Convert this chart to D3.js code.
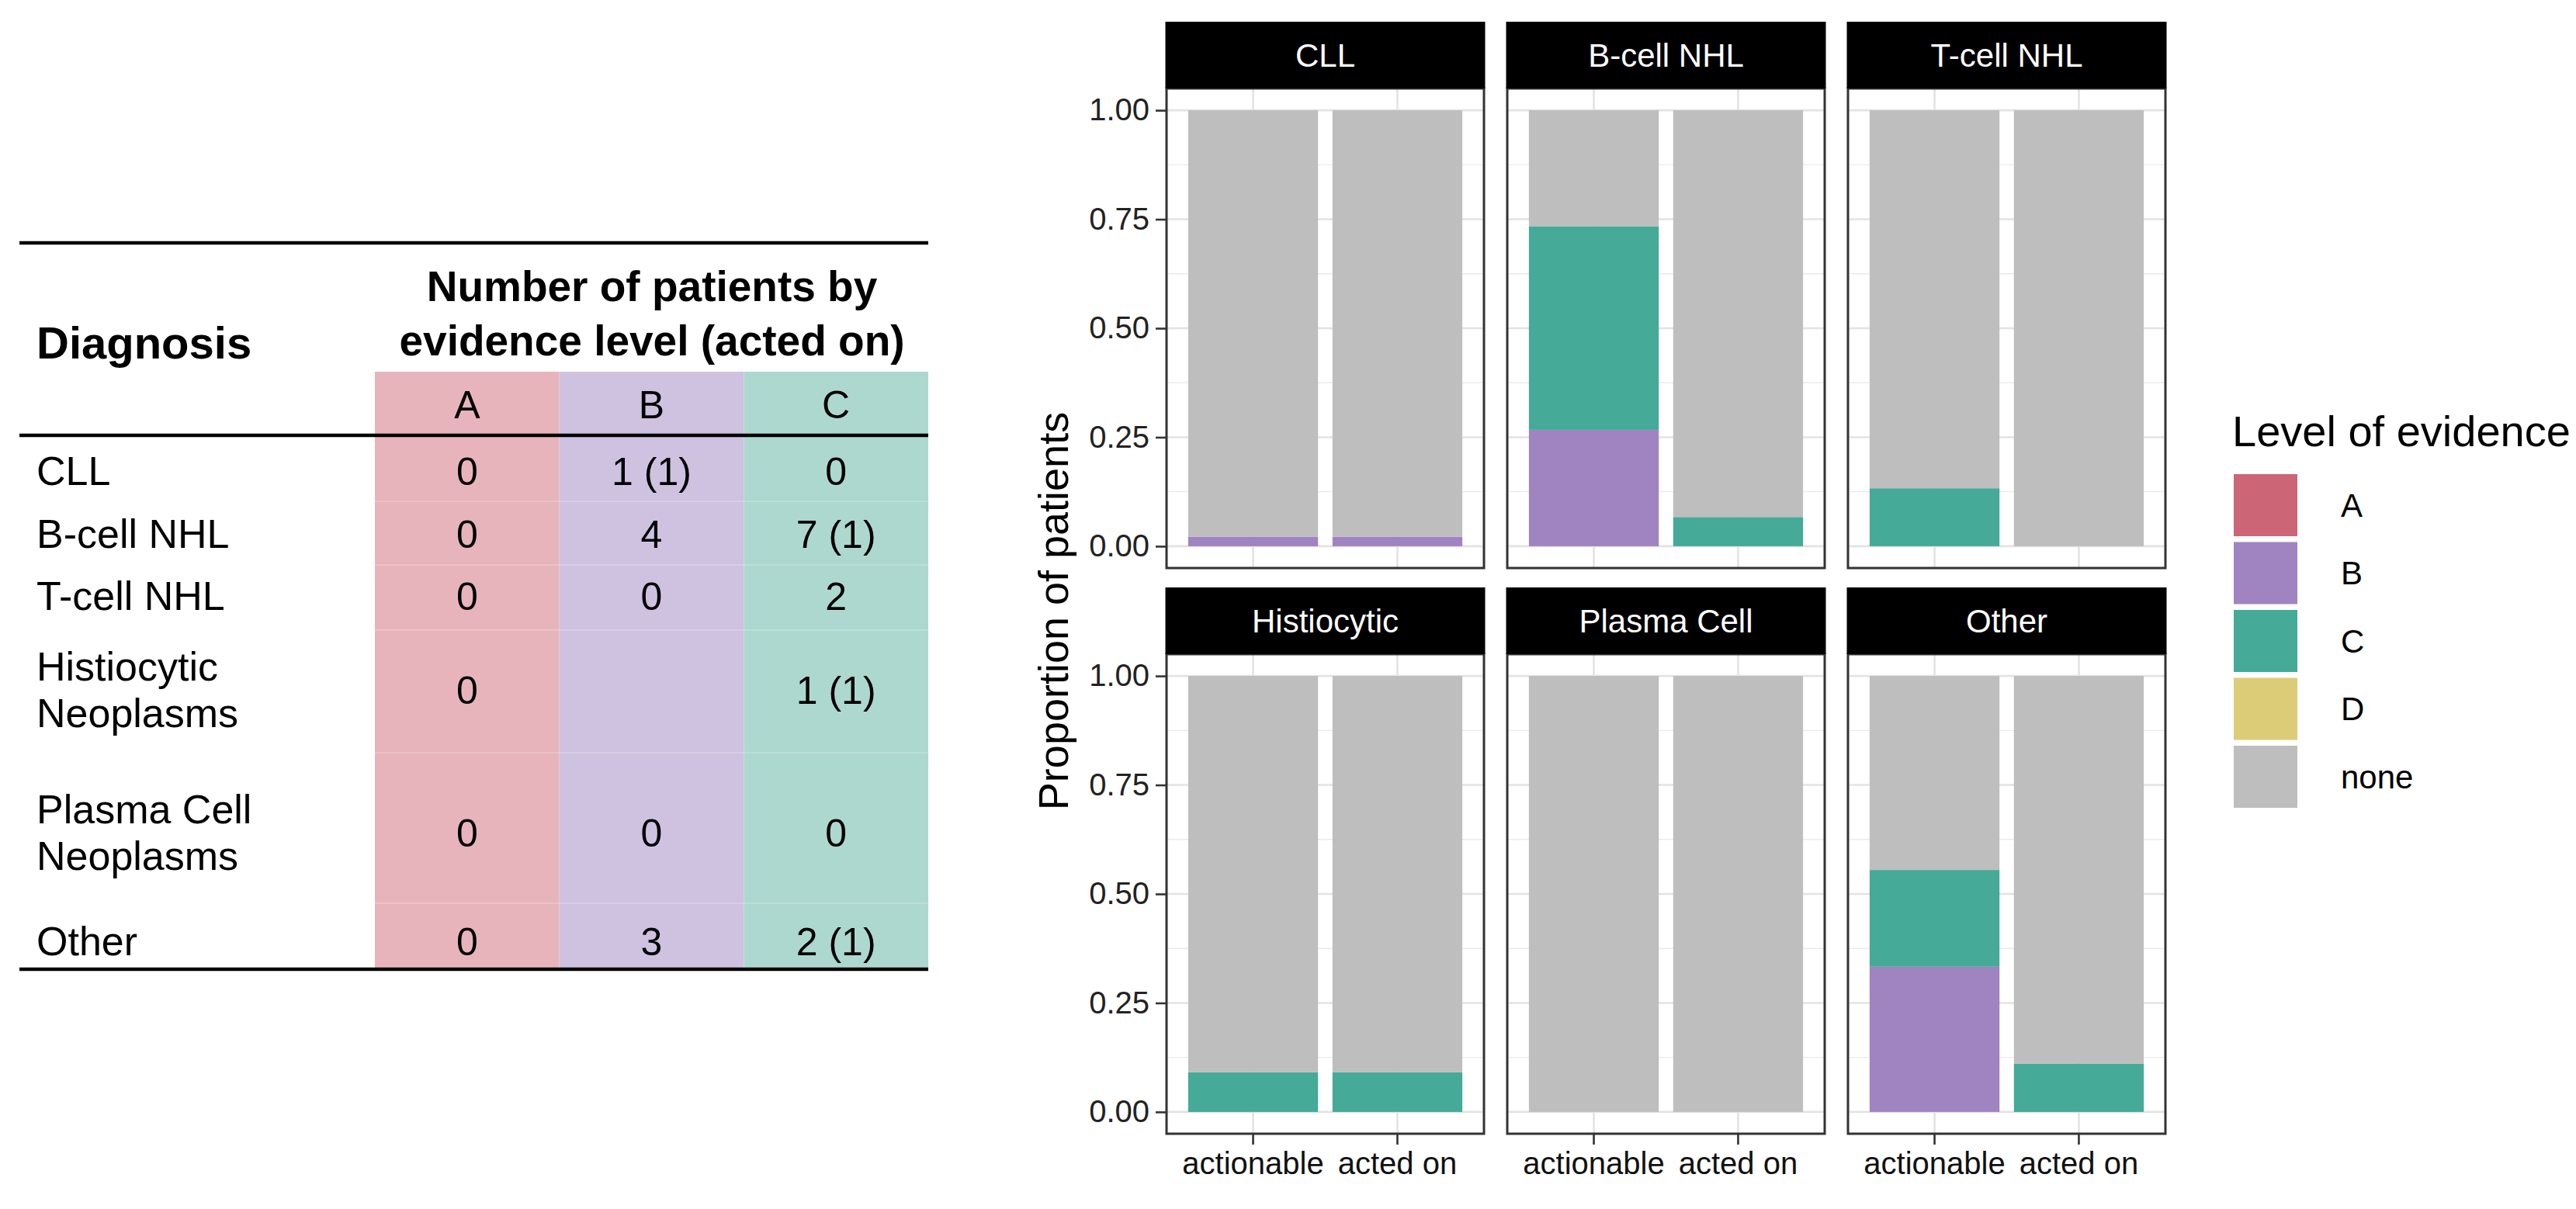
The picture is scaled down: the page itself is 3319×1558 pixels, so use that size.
<!DOCTYPE html>
<html>
<head>
<meta charset="utf-8">
<script src="https://cdn.jsdelivr.net/npm/d3@7"></script>
<style>
  body { margin: 0; background: #fff; }
  text { font-family: "Liberation Sans", Arial, sans-serif; }
</style>
</head>
<body>
<div id="chart"></div>
<script>
// ---- table data ----
const diagnoses = [["CLL"], ["B-cell NHL"], ["T-cell NHL"], ["Histiocytic", "Neoplasms"], ["Plasma Cell", "Neoplasms"], ["Other"]];
const tableLevels = ["A", "B", "C"];
const countsA = ["0", "0", "0", "0", "0", "0"];
const countsB = ["1 (1)", "4", "0", "", "0", "3"];
const countsC = ["0", "7 (1)", "2", "1 (1)", "0", "2 (1)"];

// ---- chart data: proportion of patients, [facet][actionable, acted on] ----
const facets = ["CLL", "B-cell NHL", "T-cell NHL", "Histiocytic", "Plasma Cell", "Other"];
const stages = ["actionable", "acted on"];
const levels = ["A", "B", "C", "D", "none"];
const propA = [[0, 0], [0, 0], [0, 0], [0, 0], [0, 0], [0, 0]];
const propB = [[0.022, 0.022], [0.267, 0], [0, 0], [0, 0], [0, 0], [0.333, 0]];
const propC = [[0, 0], [0.467, 0.067], [0.133, 0], [0.091, 0.091], [0, 0], [0.222, 0.111]];
const propD = [[0, 0], [0, 0], [0, 0], [0, 0], [0, 0], [0, 0]];
const propNone = [[0.978, 0.978], [0.266, 0.933], [0.867, 1], [0.909, 0.909], [1, 1], [0.445, 0.889]];
const yTicks = [0, 0.25, 0.5, 0.75, 1];

const width = 3319, height = 1558;
const svg = d3.select('#chart').append('svg')
  .attr('width', width).attr('height', height);
svg.append('rect').attr('width', width).attr('height', height).attr('fill', '#fff');

// ================= table =================
const tbl = svg.append('g');
const colFill = d3.scaleOrdinal().domain(tableLevels).range(['#E8B4BC', '#CFC2E0', '#ADD8CF']);
const colX = d3.scaleBand().domain(tableLevels).range([483, 1196]);
const rowCenters = [607, 688, 768, 889, 1073, 1213];
const rowLines = [646, 728, 812, 970, 1164];

tbl.selectAll('.colbg').data(tableLevels).enter().append('rect')
  .attr('x', d => colX(d)).attr('y', 479)
  .attr('width', colX.bandwidth()).attr('height', 1249 - 479)
  .attr('fill', d => colFill(d));

tbl.selectAll('.rowline').data(rowLines).enter().append('line')
  .attr('x1', 483).attr('x2', 1196).attr('y1', d => d).attr('y2', d => d)
  .attr('stroke', '#fff').attr('stroke-opacity', 0.18).attr('stroke-width', 2);

[313, 561, 1249].forEach(y => {
  tbl.append('line').attr('x1', 25).attr('x2', 1196).attr('y1', y).attr('y2', y)
    .attr('stroke', '#000').attr('stroke-width', 4.5);
});

tbl.append('text').attr('x', 47).attr('y', 462)
  .style('font-size', '58px').style('font-weight', 'bold').text('Diagnosis');
tbl.append('text').attr('x', 840).attr('y', 388).attr('text-anchor', 'middle')
  .style('font-size', '55px').style('font-weight', 'bold').text('Number of patients by');
tbl.append('text').attr('x', 840).attr('y', 458).attr('text-anchor', 'middle')
  .style('font-size', '55px').style('font-weight', 'bold').text('evidence level (acted on)');

tbl.selectAll('.lvl').data(tableLevels).enter().append('text')
  .attr('x', d => colX(d) + colX.bandwidth() / 2).attr('y', 521).attr('dy', '0.35em')
  .attr('text-anchor', 'middle').style('font-size', '50px').text(d => d);

diagnoses.forEach((lines, i) => {
  const t = tbl.append('text').attr('x', 47).style('font-size', '52px');
  lines.forEach((ln, j) => {
    t.append('tspan').attr('x', 47)
      .attr('y', rowCenters[i] + (j - (lines.length - 1) / 2) * 60)
      .attr('dy', '0.35em').text(ln);
  });
});

[countsA, countsB, countsC].forEach((col, k) => {
  const lvl = tableLevels[k];
  tbl.selectAll('.v' + lvl).data(col).enter().append('text')
    .attr('x', colX(lvl) + colX.bandwidth() / 2)
    .attr('y', (d, i) => rowCenters[i]).attr('dy', '0.35em')
    .attr('text-anchor', 'middle').style('font-size', '50px').text(d => d);
});

// ================= faceted bar chart =================
const levelColor = d3.scaleOrdinal().domain(levels)
  .range(['#CC6677', '#A083C1', '#45AA98', '#DDCC77', '#BEBEBE']);
const propByLevel = { A: propA, B: propB, C: propC, D: propD, none: propNone };

const panelW = 409, colStep = 439, panelLeft = 1503;
const stripTops = [28, 757], stripH = 86, panelH = 618;

const x = d3.scaleBand().domain(stages).range([0, panelW])
  .paddingInner(0.1).paddingOuter(0.15);
const y = d3.scaleLinear().domain([-0.05, 1.05]).range([panelH, 0]);
const minorTicks = [0.125, 0.375, 0.625, 0.875];

facets.forEach((f, i) => {
  const col = i % 3, row = Math.floor(i / 3);
  const px = panelLeft + col * colStep;
  const sy = stripTops[row];
  const py = sy + stripH;
  const g = svg.append('g').attr('transform', `translate(${px},${py})`);

  // grid
  g.selectAll('.minor').data(minorTicks).enter().append('line')
    .attr('x1', 0).attr('x2', panelW).attr('y1', d => y(d)).attr('y2', d => y(d))
    .attr('stroke', '#EBEBEB').attr('stroke-width', 1.3);
  g.selectAll('.major').data(yTicks).enter().append('line')
    .attr('x1', 0).attr('x2', panelW).attr('y1', d => y(d)).attr('y2', d => y(d))
    .attr('stroke', '#E3E3E3').attr('stroke-width', 2.6);
  g.selectAll('.vgrid').data(stages).enter().append('line')
    .attr('x1', d => x(d) + x.bandwidth() / 2).attr('x2', d => x(d) + x.bandwidth() / 2)
    .attr('y1', 0).attr('y2', panelH)
    .attr('stroke', '#E3E3E3').attr('stroke-width', 2.6);

  // stacked bars
  const rows = stages.map((s, j) => {
    const r = { stage: s };
    levels.forEach(l => { r[l] = propByLevel[l][i][j]; });
    return r;
  });
  const series = d3.stack().keys(levels)(rows);
  g.selectAll('.layer').data(series).enter().append('g')
    .attr('fill', d => levelColor(d.key))
    .selectAll('rect').data(d => d).enter().append('rect')
    .attr('x', d => x(d.data.stage))
    .attr('width', x.bandwidth())
    .attr('y', d => y(d[1]))
    .attr('height', d => Math.max(0, y(d[0]) - y(d[1])));

  // border
  g.append('rect').attr('x', 0).attr('y', 0).attr('width', panelW).attr('height', panelH)
    .attr('fill', 'none').attr('stroke', '#333').attr('stroke-width', 3);

  // strip
  svg.append('rect').attr('x', px - 1.5).attr('y', sy).attr('width', panelW + 3).attr('height', stripH)
    .attr('fill', '#000');
  svg.append('text').attr('x', px + panelW / 2).attr('y', sy + stripH / 2).attr('dy', '0.35em')
    .attr('text-anchor', 'middle').style('font-size', '42px').style('fill', '#fff').text(f);

  // y axis on first column
  if (col === 0) {
    const ya = g.append('g')
      .call(d3.axisLeft(y).tickValues(yTicks).tickFormat(d3.format('.2f')).tickSizeOuter(0).tickSize(14).tickPadding(8));
    ya.select('.domain').remove();
    ya.selectAll('line').attr('stroke', '#333').attr('stroke-width', 2.6);
    ya.selectAll('text').style('font-size', '40px').style('fill', '#222')
      .style('font-family', '"Liberation Sans", Arial, sans-serif');
  }
  // x axis on bottom row
  if (row === 1) {
    const xa = g.append('g').attr('transform', `translate(0,${panelH})`)
      .call(d3.axisBottom(x).tickSizeOuter(0).tickSize(14).tickPadding(10));
    xa.select('.domain').remove();
    xa.selectAll('line').attr('stroke', '#333').attr('stroke-width', 2.6);
    xa.selectAll('text').style('font-size', '40px').style('fill', '#111')
      .style('font-family', '"Liberation Sans", Arial, sans-serif');
  }
});

// y axis title
svg.append('text')
  .attr('transform', `translate(1357,${(stripTops[0] + stripH + stripTops[1] + stripH + panelH) / 2}) rotate(-90)`)
  .attr('text-anchor', 'middle').attr('dy', '0.35em')
  .style('font-size', '54px').text('Proportion of patients');

// legend
const leg = svg.append('g').attr('transform', 'translate(2876,0)');
leg.append('text').attr('x', 0).attr('y', 555).attr('dy', '0.35em')
  .style('font-size', '56px').text('Level of evidence');
leg.selectAll('.key').data(levels).enter().append('rect')
  .attr('x', 2).attr('y', (d, i) => 611 + i * 87.5)
  .attr('width', 82).attr('height', 80)
  .attr('fill', d => levelColor(d));
leg.selectAll('.lab').data(levels).enter().append('text')
  .attr('x', 140).attr('y', (d, i) => 651 + i * 87.5).attr('dy', '0.35em')
  .style('font-size', '42px').text(d => d);
</script>
</body>
</html>
